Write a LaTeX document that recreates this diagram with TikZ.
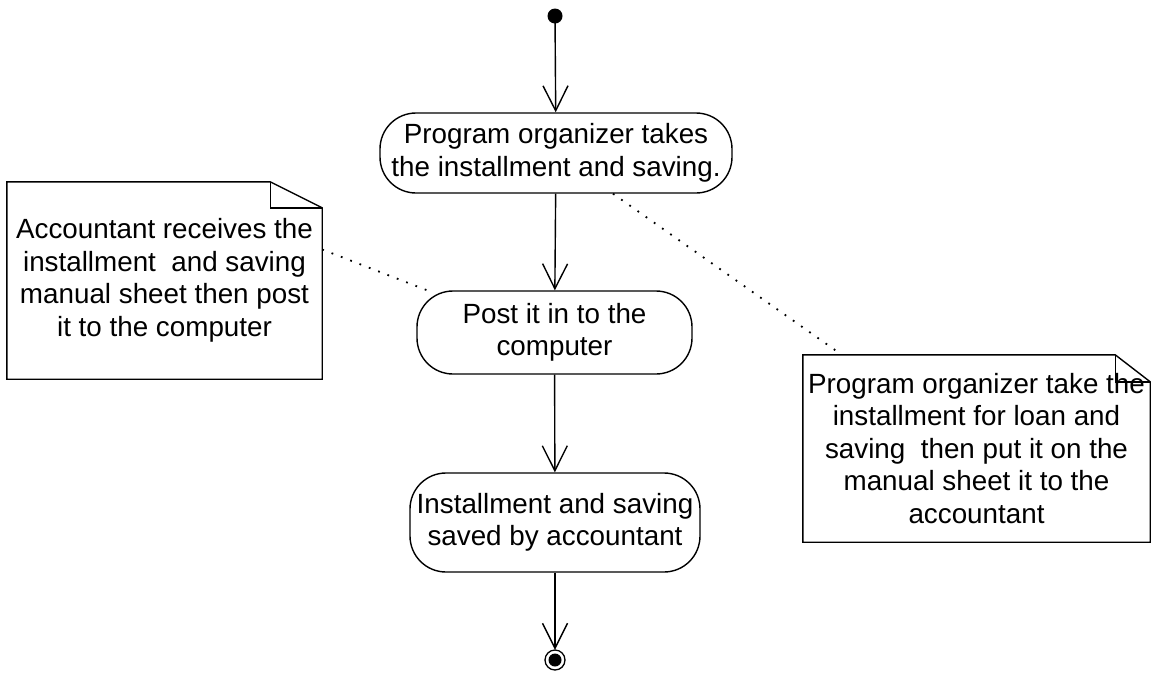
\documentclass[tikz,border=0pt]{standalone}
\usepackage{fontspec}
\setmainfont{Liberation Sans}
\usetikzlibrary{arrows.meta}
\begin{document}
\begin{tikzpicture}[x=1pt,y=-1pt,
  every node/.style={font=\fontsize{27.8}{32.5}\selectfont},
  activity/.style={draw,line width=1.4pt,rounded corners=36pt,align=center,inner sep=0pt},
  notebox/.style={align=center,inner sep=0pt},
  flow/.style={line width=1.4pt,-{Straight Barb[length=25pt,width=25pt,line width=1.4pt]}},
  outline/.style={line width=1.4pt},
  anchorline/.style={line width=1.8pt,dash pattern=on 1.8pt off 8.2pt}]
\useasboundingbox (0,0) rectangle (1151,673);

% initial and final states
\fill (555,16) circle (7.5);
\node[circle,minimum size=14pt,inner sep=0pt] (start) at (555,16) {};
\draw[line width=1.3pt] (555,660) circle (10);
\fill (555,660) circle (6.5);
\node[circle,minimum size=20pt,inner sep=0pt] (stop) at (555,660) {};

% activities
\node[activity,minimum width=352pt,minimum height=80pt] (a1) at (556,153)
  {Program organizer takes\\the installment and saving.};
\node[activity,minimum width=275pt,minimum height=83pt] (a2) at (554.5,332.5)
  {Post it in to the\\computer};
\node[activity,minimum width=290pt,minimum height=99pt] (a3) at (555,522.5)
  {Installment and saving\\saved by accountant};

% control flow
\draw[flow] (start) -- (a1);
\draw[flow] (a1) -- (a2);
\draw[flow] (a2) -- (a3);
\draw[flow] (a3) -- (stop);

% notes
\node[notebox,minimum width=315pt,minimum height=197pt] (n1) at (164.5,280.5)
  {Accountant receives the\\installment\ \ and saving\\manual sheet then post\\it to the computer};
\draw[outline] (n1.south west) -- (n1.north west) -- ([xshift=-52pt]n1.north east)
  -- ([yshift=-26pt]n1.north east) -- (n1.south east) -- cycle;
\draw[outline] ([xshift=-52pt]n1.north east) |- ([yshift=-26pt]n1.north east);

\node[notebox,minimum width=347pt,minimum height=187pt] (n2) at (976.5,448.5)
  {Program organizer take the\\installment for loan and\\saving\ \ then put it on the\\ manual sheet it to the\\accountant};
\draw[outline] (n2.south west) -- (n2.north west) -- ([xshift=-35pt]n2.north east)
  -- ([yshift=-27pt]n2.north east) -- (n2.south east) -- cycle;
\draw[outline] ([xshift=-35pt]n2.north east) |- ([yshift=-27pt]n2.north east);

% note anchors
\draw[anchorline] ([yshift=31pt]n1.east) -- ([xshift=16pt,yshift=-2pt]a2.north west);
\draw[anchorline] ([xshift=57pt]a1.south) -- ([xshift=39pt]n2.north west);
\end{tikzpicture}
\end{document}
